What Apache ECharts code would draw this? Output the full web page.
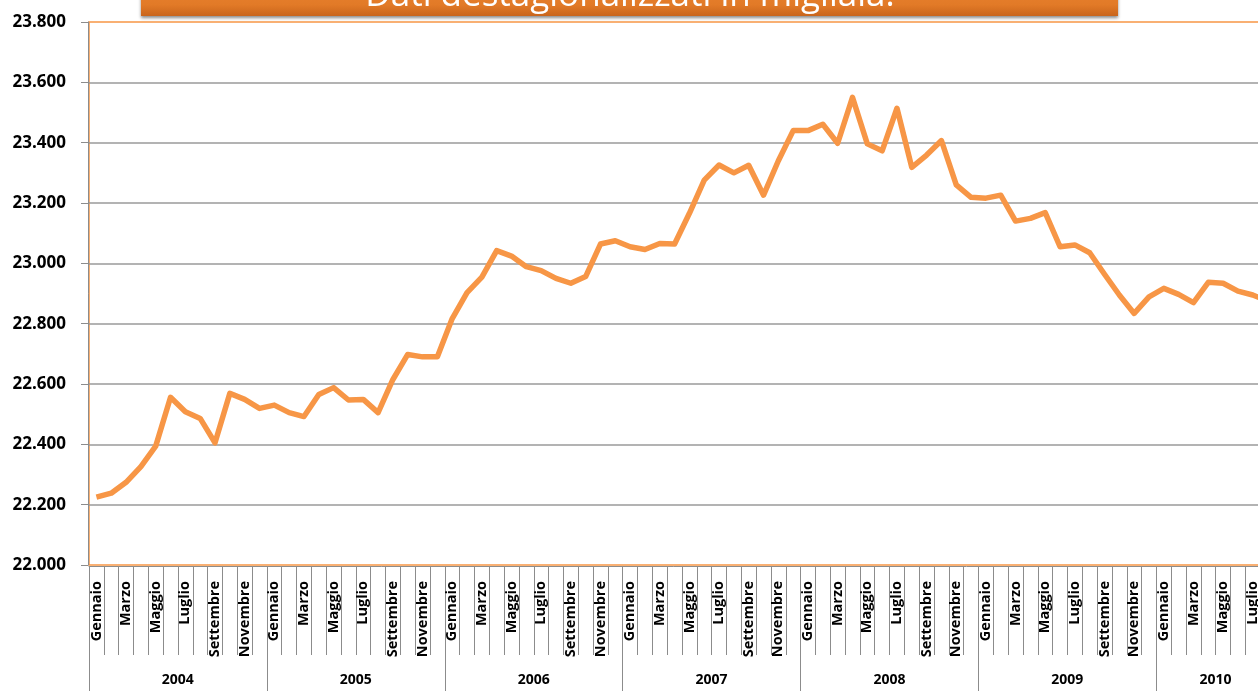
<!DOCTYPE html>
<html lang="it">
  <head>
    <meta charset="UTF-8" />
    <title>Occupati - dati destagionalizzati</title>
    <style>
      html, body { margin: 0; padding: 0; background: #fff; }
      #main { width: 1258px; height: 691px; }
    </style>
  </head>
  <body>
    <div id="main"></div>
    <script src="https://cdn.jsdelivr.net/npm/echarts@6/dist/echarts.min.js"></script>
    <script>
      // mesi e anni dell'asse orizzontale
      var mesi = ["Gennaio", "Febbraio", "Marzo", "Aprile", "Maggio", "Giugno",
                  "Luglio", "Agosto", "Settembre", "Ottobre", "Novembre", "Dicembre"];
      var anni = ["2004", "2005", "2006", "2007", "2008", "2009", "2010"];

      // occupati, dati destagionalizzati in migliaia
      var v2004 = [22225, 22238, 22274, 22326, 22394, 22556, 22508, 22486, 22405, 22569, 22549, 22519];
      var v2005 = [22530, 22505, 22492, 22565, 22588, 22547, 22549, 22505, 22615, 22698, 22690, 22690];
      var v2006 = [22817, 22903, 22954, 23042, 23024, 22989, 22976, 22950, 22934, 22956, 23064, 23075];
      var v2007 = [23055, 23046, 23066, 23064, 23166, 23276, 23326, 23300, 23325, 23226, 23340, 23440];
      var v2008 = [23440, 23461, 23398, 23550, 23396, 23373, 23514, 23318, 23359, 23407, 23260, 23219];
      var v2009 = [23216, 23226, 23140, 23149, 23168, 23055, 23061, 23035, 22964, 22895, 22834, 22889];
      var v2010 = [22917, 22897, 22870, 22937, 22934, 22908, 22895, 22875];

      var serie = [v2004, v2005, v2006, v2007, v2008, v2009, v2010];

      var catMesi = [];
      var catAnni = [];
      var valori = [];
      serie.forEach(function (arr, i) {
        arr.forEach(function (v, m) {
          catMesi.push(mesi[m]);
          catAnni.push(anni[i]);
          valori.push(v);
        });
      });

      var grigio = "#8c8c8c";
      var arancio = "#F79646";

      function formatIt(v) {
        var migliaia = Math.floor(v / 1000);
        var resto = String(v % 1000);
        while (resto.length < 3) resto = "0" + resto;
        return migliaia + "." + resto;
      }

      var myChart = echarts.init(document.getElementById("main"));

      var option = {
        animation: false,
        grid: {
          left: 89,
          width: 1186, // il grafico prosegue oltre il bordo destro
          top: 22,
          bottom: 126,
          containLabel: false,
          outerBoundsMode: "none",
          show: true,
          borderColor: arancio,
          borderWidth: 1.5,
        },
        graphic: [
          {
            type: "rect",
            shape: { x: 141, y: -40, width: 977, height: 56 },
            style: {
              fill: new echarts.graphic.LinearGradient(0, 0, 0, 1, [
                { offset: 0, color: "#EE8D3C" },
                { offset: 0.8, color: "#E27A27" },
                { offset: 1, color: "#C9651C" },
              ]),
              shadowBlur: 3,
              shadowOffsetY: 2,
              shadowColor: "rgba(0,0,0,0.45)",
            },
            z: 10,
          },
          {
            type: "text",
            x: 630,
            y: 14,
            style: {
              text: "Dati destagionalizzati in migliaia.",
              fill: "#fff",
              font: '35px "Open Sans"',
              textAlign: "center",
              textVerticalAlign: "bottom",
            },
            z: 11,
          },
        ],
        xAxis: [
          {
            type: "category",
            data: catMesi,
            boundaryGap: true,
            position: "bottom",
            offset: 1,
            axisLine: { lineStyle: { color: grigio, width: 1 } },
            axisTick: {
              show: true,
              interval: 0,
              length: 89,
              lineStyle: { color: grigio, width: 1 },
            },
            axisLabel: {
              interval: 1,
              rotate: 90,
              margin: 15,
              color: "#000",
              fontFamily: "Open Sans",
              fontWeight: "bold",
              fontSize: 14.5,
            },
            splitLine: { show: false },
          },
          {
            type: "category",
            data: catAnni,
            boundaryGap: true,
            position: "bottom",
            offset: 1,
            axisLine: { show: false },
            axisTick: {
              show: true,
              interval: function (idx) {
                return idx % 12 === 0;
              },
              length: 126,
              lineStyle: { color: grigio, width: 1 },
            },
            axisLabel: {
              interval: function (idx) {
                return (idx % 12 === 6 && idx < 72) || idx === 76;
              },
              margin: 107,
              padding: [0, 15, 0, 0],
              color: "#000",
              fontFamily: "Open Sans",
              fontWeight: "bold",
              fontSize: 14,
            },
            splitLine: { show: false },
          },
        ],
        yAxis: {
          type: "value",
          min: 22000,
          max: 23800,
          interval: 200,
          offset: 1,
          axisLine: { show: true, lineStyle: { color: grigio, width: 1 } },
          axisTick: { show: true, length: 7, lineStyle: { color: grigio } },
          axisLabel: {
            margin: 22,
            color: "#000",
            fontFamily: "Open Sans",
            fontWeight: "bold",
            fontSize: 17,
            formatter: formatIt,
          },
          splitLine: {
            show: true,
            showMinLine: false,
            showMaxLine: false,
            lineStyle: { color: "#9a9a9a", width: 1.5 },
          },
        },
        series: [
          {
            type: "line",
            xAxisIndex: 0,
            data: valori,
            showSymbol: false,
            symbol: "none",
            lineStyle: { color: arancio, width: 5.5, join: "round" },
            z: 5,
          },
        ],
      };

      myChart.setOption(option);
    </script>
  </body>
</html>
